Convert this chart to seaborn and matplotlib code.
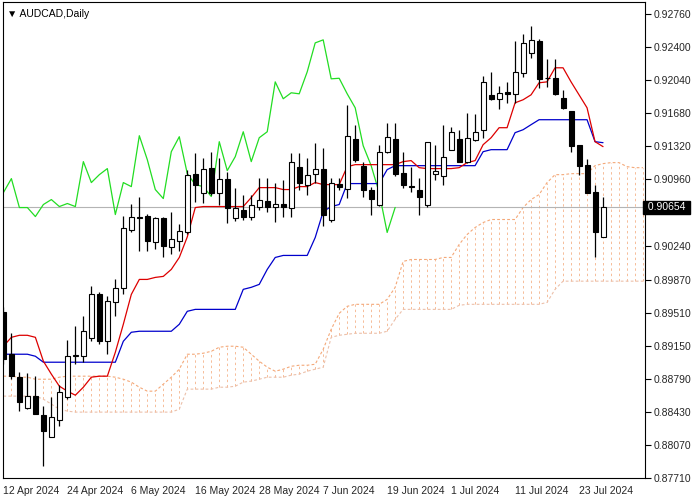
import numpy as np
import pandas as pd
import matplotlib
matplotlib.use("Agg")
import matplotlib.pyplot as plt
import seaborn as sns

# daily AUDCAD candles, 12 Apr 2024 .. 24 Jul 2024
opens = [0.89513, 0.89057, 0.88807, 0.88470, 0.88601, 0.88394, 0.88155, 0.88340, 0.88590, 0.89035,
         0.89035, 0.89231, 0.89708, 0.89198, 0.89621, 0.89774, 0.90414, 0.90534, 0.90566, 0.90273,
         0.90534, 0.90219, 0.90284, 0.90382, 0.91022, 0.90816, 0.91087, 0.90816, 0.90968, 0.90534,
         0.90631, 0.90545, 0.90664, 0.90729, 0.90664, 0.90697, 0.90653, 0.91098, 0.90903, 0.91022,
         0.91077, 0.90523, 0.90914, 0.90859, 0.91402, 0.91109, 0.90849, 0.90686, 0.91261, 0.91402,
         0.91033, 0.90892, 0.90849, 0.90686, 0.91022, 0.91000, 0.91283, 0.91402, 0.91153, 0.91392,
         0.91500, 0.91880, 0.91837, 0.91913, 0.91891, 0.92119, 0.92336, 0.92467, 0.92065, 0.92065,
         0.91848, 0.91707, 0.91337, 0.91120, 0.90827, 0.90334]
highs = [0.89567, 0.89285, 0.88861, 0.88850, 0.88818, 0.88492, 0.88590, 0.88720, 0.89209, 0.89361,
         0.89469, 0.89795, 0.89730, 0.89688, 0.89871, 0.90566, 0.90697, 0.90773, 0.90588, 0.90555,
         0.90555, 0.90610, 0.90469, 0.91066, 0.91250, 0.91196, 0.91261, 0.91196, 0.91044, 0.90870,
         0.90794, 0.90794, 0.90979, 0.90979, 0.90925, 0.90957, 0.91250, 0.91250, 0.91196, 0.91359,
         0.91305, 0.90979, 0.90979, 0.91772, 0.91555, 0.91153, 0.90881, 0.91337, 0.91576, 0.91576,
         0.91261, 0.91098, 0.90979, 0.91370, 0.91337, 0.91555, 0.91533, 0.91500, 0.91685, 0.91674,
         0.92087, 0.92130, 0.91978, 0.92021, 0.92467, 0.92543, 0.92630, 0.92488, 0.92271, 0.92271,
         0.91935, 0.91707, 0.91337, 0.91185, 0.90903, 0.90773]
lows = [0.88948, 0.88785, 0.88438, 0.88459, 0.88405, 0.87841, 0.88155, 0.88275, 0.88568, 0.88948,
        0.88970, 0.89198, 0.89165, 0.89057, 0.89469, 0.89708, 0.90382, 0.90175, 0.90175, 0.90197,
        0.90110, 0.90143, 0.90175, 0.90360, 0.90718, 0.90707, 0.90794, 0.90686, 0.90490, 0.90512,
        0.90523, 0.90523, 0.90631, 0.90610, 0.90501, 0.90545, 0.90555, 0.90849, 0.90794, 0.90925,
        0.90447, 0.90501, 0.90849, 0.90762, 0.91153, 0.90773, 0.90577, 0.90675, 0.91250, 0.91000,
        0.90870, 0.90827, 0.90577, 0.90664, 0.90957, 0.90903, 0.91283, 0.91153, 0.91142, 0.91381,
        0.91413, 0.91826, 0.91728, 0.91793, 0.91793, 0.92076, 0.92282, 0.91956, 0.91967, 0.91880,
        0.91728, 0.91261, 0.91011, 0.90816, 0.90110, 0.90334]
closes = [0.89002, 0.88818, 0.88535, 0.88601, 0.88405, 0.88221, 0.88373, 0.88644, 0.89035, 0.89046,
          0.89307, 0.89708, 0.89198, 0.89632, 0.89774, 0.90436, 0.90545, 0.90555, 0.90284, 0.90534,
          0.90230, 0.90306, 0.90393, 0.91011, 0.90903, 0.91077, 0.90816, 0.90968, 0.90653, 0.90653,
          0.90555, 0.90686, 0.90740, 0.90664, 0.90697, 0.90664, 0.91153, 0.90925, 0.91011, 0.91077,
          0.90577, 0.90925, 0.90881, 0.91435, 0.91174, 0.90849, 0.90751, 0.91261, 0.91424, 0.91022,
          0.90903, 0.90881, 0.90773, 0.91370, 0.91055, 0.91207, 0.91478, 0.91153, 0.91413, 0.91478,
          0.92021, 0.91837, 0.91902, 0.91891, 0.92130, 0.92445, 0.92478, 0.92054, 0.92060, 0.91891,
          0.91739, 0.91326, 0.91109, 0.90816, 0.90382, 0.90654]

tenkan = [0.89144, 0.89241, 0.89263, 0.89263, 0.89241, 0.88981, 0.88840, 0.88709, 0.88655, 0.88611,
          0.88698, 0.88807, 0.88818, 0.88818, 0.89078, 0.89383, 0.89708, 0.89871, 0.89871, 0.89893,
          0.89904, 0.89980, 0.90110, 0.90334, 0.90653, 0.90664, 0.90664, 0.90664, 0.90664, 0.90664,
          0.90664, 0.90762, 0.90870, 0.90870, 0.90870, 0.90849, 0.90849, 0.90881, 0.90881, 0.90925,
          0.90903, 0.90903, 0.90903, 0.91098, 0.91120, 0.91120, 0.91120, 0.91120, 0.91120, 0.91120,
          0.91153, 0.91164, 0.91087, 0.91077, 0.91077, 0.91077, 0.91077, 0.91087, 0.91142, 0.91164,
          0.91337, 0.91413, 0.91522, 0.91522, 0.91793, 0.91826, 0.91880, 0.92011, 0.92021, 0.92174,
          0.92174, 0.92021, 0.91880, 0.91739, 0.91370, 0.91316]
kijun = [0.89057, 0.89057, 0.89057, 0.89057, 0.89035, 0.88970, 0.88970, 0.88970, 0.88970, 0.88970,
         0.88970, 0.88970, 0.88970, 0.88970, 0.88970, 0.89198, 0.89296, 0.89307, 0.89307, 0.89307,
         0.89307, 0.89307, 0.89383, 0.89524, 0.89545, 0.89545, 0.89545, 0.89545, 0.89545, 0.89545,
         0.89763, 0.89785, 0.89817, 0.89980, 0.90110, 0.90132, 0.90132, 0.90132, 0.90132, 0.90327,
         0.90610, 0.90664, 0.90686, 0.90914, 0.90914, 0.90914, 0.90914, 0.90914, 0.91066, 0.91109,
         0.91109, 0.91109, 0.91109, 0.91109, 0.91109, 0.91109, 0.91109, 0.91109, 0.91109, 0.91109,
         0.91261, 0.91283, 0.91283, 0.91283, 0.91468, 0.91500, 0.91555, 0.91609, 0.91609, 0.91609,
         0.91609, 0.91609, 0.91609, 0.91609, 0.91370, 0.91359]

# cloud (senkou spans, already shifted 26 bars forward), index 0..80
cloud_top = [0.88818, 0.88818, 0.88807, 0.88807, 0.88785, 0.88785, 0.88785, 0.88807, 0.88818, 0.88818,
             0.88818, 0.88818, 0.88818, 0.88818, 0.88807, 0.88785, 0.88753, 0.88698, 0.88655, 0.88655,
             0.88731, 0.88807, 0.88894, 0.89057, 0.89057, 0.89068, 0.89089, 0.89133, 0.89144, 0.89144,
             0.89133, 0.89057, 0.88981, 0.88916, 0.88872, 0.88894, 0.88926, 0.88937, 0.88937, 0.88948,
             0.89111, 0.89328, 0.89502, 0.89578, 0.89600, 0.89600, 0.89600, 0.89600, 0.89654, 0.89785,
             0.90067, 0.90088, 0.90088, 0.90088, 0.90088, 0.90110, 0.90110, 0.90251, 0.90360, 0.90436,
             0.90490, 0.90523, 0.90523, 0.90523, 0.90523, 0.90653, 0.90740, 0.90794, 0.90925, 0.91011,
             0.91011, 0.91022, 0.91022, 0.91022, 0.91109, 0.91131, 0.91142, 0.91142, 0.91098, 0.91087,
             0.91087]
cloud_bottom = [0.88601, 0.88601, 0.88601, 0.88601, 0.88601, 0.88568, 0.88514, 0.88459, 0.88438, 0.88427,
                0.88427, 0.88427, 0.88427, 0.88427, 0.88427, 0.88427, 0.88427, 0.88427, 0.88427, 0.88427,
                0.88427, 0.88427, 0.88459, 0.88677, 0.88677, 0.88677, 0.88677, 0.88698, 0.88698, 0.88709,
                0.88753, 0.88764, 0.88785, 0.88807, 0.88807, 0.88807, 0.88829, 0.88840, 0.88872, 0.88894,
                0.88916, 0.89241, 0.89263, 0.89274, 0.89285, 0.89285, 0.89285, 0.89285, 0.89307, 0.89437,
                0.89545, 0.89545, 0.89545, 0.89545, 0.89545, 0.89545, 0.89545, 0.89589, 0.89600, 0.89600,
                0.89600, 0.89600, 0.89600, 0.89600, 0.89600, 0.89600, 0.89600, 0.89600, 0.89621, 0.89763,
                0.89852, 0.89852, 0.89852, 0.89852, 0.89852, 0.89852, 0.89852, 0.89852, 0.89852, 0.89852,
                0.89852]

date_labels = ["12 Apr 2024", "24 Apr 2024", "6 May 2024", "16 May 2024", "28 May 2024",
               "7 Jun 2024", "19 Jun 2024", "1 Jul 2024", "11 Jul 2024", "23 Jul 2024"]
price_ticks = [0.92760, 0.92400, 0.92040, 0.91680, 0.91320, 0.90960, 0.90240,
               0.89870, 0.89510, 0.89150, 0.88790, 0.88430, 0.88070, 0.87710]
last_price = 0.90654

sns.set_style("white")
plt.rcParams['font.family'] = ['Liberation Sans', 'DejaVu Sans']

n = len(closes)
bars = pd.DataFrame({'i': np.arange(n), 'open': opens, 'high': highs, 'low': lows,
                     'close': closes, 'tenkan': tenkan, 'kijun': kijun})
cloud = pd.DataFrame({'i': np.arange(len(cloud_top)), 'top': cloud_top, 'bottom': cloud_bottom})
chikou = pd.DataFrame({'i': np.arange(n - 26), 'close': closes[26:]})

fig = plt.figure(figsize=(7, 5), dpi=100)
ax = fig.add_axes([3 / 700, 22 / 500, 642 / 700, 476 / 500])

cloud_col = '#f4a878'
ax.vlines(cloud['i'], cloud['bottom'], cloud['top'], colors='#f6bc98', linewidth=0.7,
          linestyles=(0, (2.5, 3)), zorder=1)
sns.lineplot(data=cloud, x='i', y='top', ax=ax, color=cloud_col, lw=0.8, linestyle=(0, (2.5, 2)), zorder=1)
sns.lineplot(data=cloud, x='i', y='bottom', ax=ax, color='#ecc0aa', lw=0.8, linestyle=(0, (2.5, 2)), zorder=1)

ax.axhline(last_price, color='#b4b4b4', lw=0.8, zorder=1)

sns.lineplot(data=chikou, x='i', y='close', ax=ax, color='#22dd22', lw=0.9, zorder=2)
sns.lineplot(data=bars, x='i', y='kijun', ax=ax, color='#0000cc', lw=0.9, zorder=2)
sns.lineplot(data=bars, x='i', y='tenkan', ax=ax, color='#dd0000', lw=0.9, zorder=2)

up = bars['close'] >= bars['open']
ax.vlines(bars['i'], bars['low'], bars['high'], color='black', lw=0.9, zorder=3)
body_lo = np.minimum(bars['open'], bars['close'])
body_h = np.maximum(np.abs(bars['close'] - bars['open']), 0.00003)
ax.bar(bars['i'][up], body_h[up], bottom=body_lo[up], width=0.62, color='white',
       edgecolor='black', linewidth=0.8, zorder=4)
ax.bar(bars['i'][~up], body_h[~up], bottom=body_lo[~up], width=0.62, color='black',
       edgecolor='black', linewidth=0.8, zorder=4)

ax.set_xlim(-0.05, 80.25)
ax.set_ylim(0.87710, 0.92890)
ax.set_xlabel('')
ax.set_ylabel('')

ax.set_xticks(np.arange(len(date_labels)) * 8)
ax.set_xticklabels(date_labels, ha='left', fontsize=7.5)
ax.yaxis.tick_right()
ax.set_yticks(price_ticks)
ax.set_yticklabels([f"{p:.5f}" for p in price_ticks], fontsize=7.5)
ax.tick_params(axis='both', length=4, width=0.8, color='black', pad=2, direction='out')
for s in ax.spines.values():
    s.set_color('black')
    s.set_linewidth(0.8)

ax.text(1.0, last_price, f" {last_price:.5f} ", transform=ax.get_yaxis_transform(),
        ha='left', va='center', fontsize=7.5, color='white',
        bbox=dict(boxstyle='square,pad=0.15', fc='black', ec='black'))
ax.text(0.006, 0.985, "\u25bc AUDCAD,Daily", transform=ax.transAxes, ha='left', va='top',
        fontsize=7.5, color='black', family=['Liberation Sans', 'DejaVu Sans'])

fig.savefig('out.png', dpi=100)
